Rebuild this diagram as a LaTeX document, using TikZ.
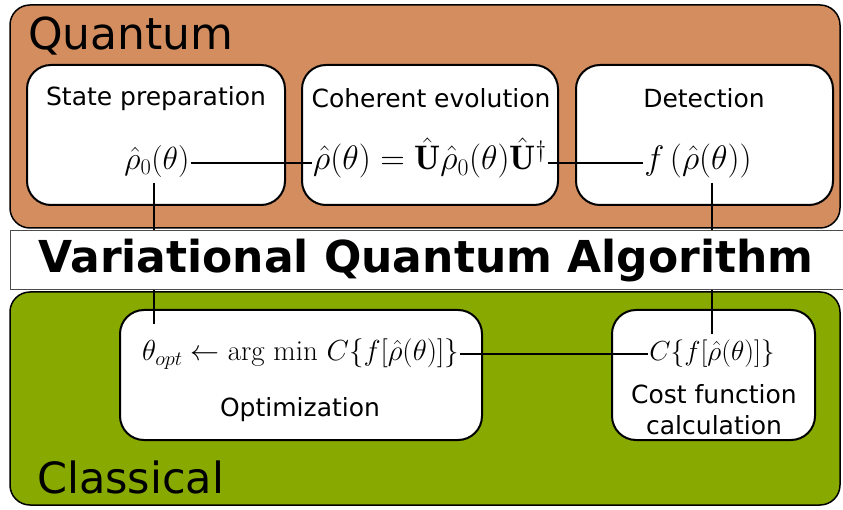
\documentclass[tikz,border=0pt]{standalone}
\usepackage{fix-cm}
\usepackage{fontspec}
\setsansfont{DejaVu Sans}
\usepackage{amsmath}
\definecolor{qorange}{HTML}{D38D5F}
\definecolor{cgreen}{HTML}{88AA00}
\begin{document}
\begin{tikzpicture}[x=1pt,y=-1pt,
  outer/.style={draw=black, line width=1.5pt, rounded corners=20pt},
  inner/.style={draw=black, fill=white, line width=2pt, rounded corners=24pt, inner sep=0pt},
  lbl/.style={font=\sffamily\fontsize{25}{30}\selectfont, anchor=base, inner sep=0pt},
  big/.style={font=\sffamily\fontsize{44}{50}\selectfont, anchor=base west, inner sep=0pt},
  mth/.style={anchor=base, inner sep=1pt, text height=24pt, text depth=10pt},
  conn/.style={draw=black, line width=2.5pt}]
\useasboundingbox (0,0) rectangle (843,510);
% outer regions
\path[outer, fill=qorange] (10,5) rectangle (840,228);
\path[outer, fill=cgreen] (10,292) rectangle (840,505);
\node[big] (qt) at (28,50) {Quantum};
\node[big, font=\sffamily\fontsize{43}{50}\selectfont] (cl) at (37,493) {Classical};
% inner boxes
\node[inner, minimum width=258pt, minimum height=140pt] (sp) at (156,135) {};
\node[inner, minimum width=256pt, minimum height=140pt] (ce) at (430,135) {};
\node[inner, minimum width=257pt, minimum height=140pt] (de) at (704.5,135) {};
\node[inner, minimum width=362pt, minimum height=130pt] (op) at (301,375) {};
\node[inner, minimum width=203pt, minimum height=130pt] (cf) at (713.5,375) {};
% labels
\node[lbl] (spl) at (156,106) {State preparation};
\node[lbl] (cel) at (431,108) {Coherent evolution};
\node[lbl] (del) at (704,108) {Detection};
\node[lbl] (opl) at (300,416) {Optimization};
\node[lbl] (cfl1) at (714,403) {Cost function};
\node[lbl] (cfl2) at (714,434) {calculation};
% math
\node[mth, font=\fontsize{32}{38}\selectfont] (m1) at (157,170) {$\hat\rho_0(\theta)$};
\node[mth, font=\fontsize{34}{40}\selectfont] (m2) at (430,170) {$\hat\rho(\theta)=\hat{\mathbf{U}}\hat\rho_0(\theta)\hat{\mathbf{U}}^\dagger$};
\node[mth, font=\fontsize{34}{40}\selectfont] (m3) at (698,170) {$f\,(\hat\rho(\theta))$};
\node[mth, font=\fontsize{29}{35}\selectfont] (m4) at (300.5,361) {$\theta_{opt}\leftarrow \mathrm{arg\ min}\ C\{f[\hat\rho(\theta)]\}$};
\node[mth, font=\fontsize{27.5}{33}\selectfont] (m5) at (712,361) {$C\{f[\hat\rho(\theta)]\}$};
% connectors
\draw[conn] (m1.east) -- (m2.west);
\draw[conn] (m2.east) -- (m3.west);
\draw[conn] (m4.east) -- (m5.west);
\draw[conn, shorten <=2pt, shorten >=12pt] ([xshift=-3pt]m1.south) -- ([xshift=-3pt]m1.south |- m4.north);
\draw[conn, shorten <=2pt, shorten >=2pt] (m5.north |- m3.south) -- (m5.north);
% band
\path[fill=white, draw=black!70, line width=1pt] (10,231) rectangle (846,290);
\node[font=\sffamily\bfseries\fontsize{44}{50}\selectfont, anchor=base, inner sep=0pt] (title) at (426,273) {Variational Quantum Algorithm};
\end{tikzpicture}
\end{document}
